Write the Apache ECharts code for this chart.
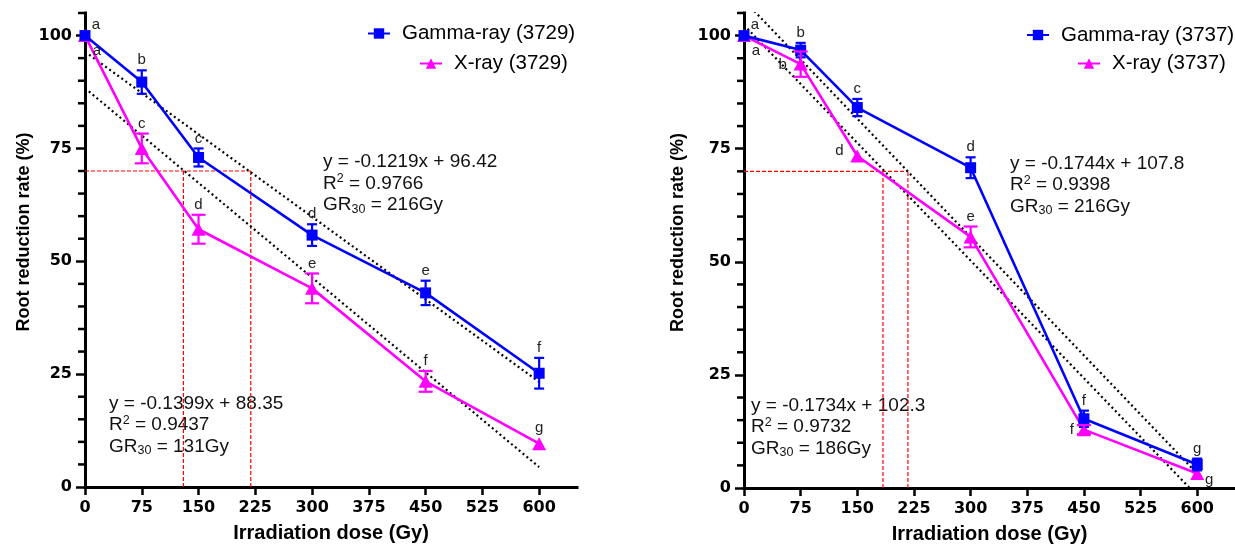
<!DOCTYPE html>
<html>
<head>
<meta charset="utf-8">
<script src="https://cdn.jsdelivr.net/npm/echarts@6/dist/echarts.min.js"></script>
<style>
html, body { margin: 0; padding: 0; background: #fff; }
#main { width: 1235px; height: 549px; }
</style>
</head>
<body>
<div id="main"></div>
<script>
// dose levels and axis ticks
var doses = [0, 75, 150, 300, 450, 600];
var xTicks = [0, 75, 150, 225, 300, 375, 450, 525, 600];
var yTicks = [0, 25, 50, 75, 100];
var yMinorTicks = [5, 10, 15, 20, 30, 35, 40, 45, 55, 60, 65, 70, 80, 85, 90, 95, 105];

// line 3729
var gamma3729 = [100, 89.7, 73.0, 55.8, 43.0, 25.2];
var gamma3729Err = [0, 2.6, 2.0, 2.4, 2.7, 3.4];
var gamma3729Letters = ['a', 'b', 'c', 'd', 'e', 'f'];
var xray3729 = [100, 75.0, 57.1, 44.0, 23.4, 9.6];
var xray3729Err = [0, 3.3, 3.2, 3.3, 2.3, 0];
var xray3729Letters = ['a', 'c', 'd', 'e', 'f', 'g'];
var slope3729 = [-0.1219, -0.1399];      // gamma, x-ray
var intercept3729 = [96.42, 88.35];
var r2_3729 = ['0.9766', '0.9437'];
var gr30_3729 = [216, 131];
var drop3729 = [130, 219];               // red drop lines (Gy)

// line 3737
var gamma3737 = [100, 96.8, 84.1, 70.8, 15.3, 5.2];
var gamma3737Err = [0, 1.6, 1.9, 2.3, 1.8, 1.3];
var gamma3737Letters = ['a', 'b', 'c', 'd', 'f', 'g'];
var xray3737 = [100, 93.7, 73.4, 55.5, 12.9, 3.2];
var xray3737Err = [0, 2.8, 0, 2.3, 1.0, 0];
var xray3737Letters = ['a', 'b', 'd', 'e', 'f', 'g'];
var slope3737 = [-0.1744, -0.1734];
var intercept3737 = [107.8, 102.3];
var r2_3737 = ['0.9398', '0.9732'];
var gr30_3737 = [216, 186];
var drop3737 = [184, 217];

var refLevel = 70;

var BLUE = '#0000ff';
var PINK = '#ff00ff';
var FONT = 'Liberation Sans';

// where the significance letters sit
var LABEL_OFFSET = { tr: [11, -11], br: [12, 15], l: [-18, 1], l2: [-12, 0], lt: [-18, -5], rb: [12, 6] };

function pairs(xs, ys) {
    return xs.map(function (x, i) { return [x, ys[i]]; });
}

function errorBars(xi, yi, vals, errs, letters, places, color, capW) {
    return {
        type: 'custom',
        xAxisIndex: xi,
        yAxisIndex: yi,
        z: 5,
        silent: true,
        data: doses.map(function (d, i) { return [d, vals[i], errs[i], i]; }),
        renderItem: function (params, api) {
            var x = api.value(0), y = api.value(1), e = api.value(2), i = api.value(3);
            var hi = api.coord([x, y + e]);
            var lo = api.coord([x, y - e]);
            var kids = [];
            var ls = { stroke: color, lineWidth: 2.2 };
            if (e > 0) {
                kids.push({ type: 'line', shape: { x1: hi[0], y1: hi[1], x2: lo[0], y2: lo[1] }, style: ls });
                kids.push({ type: 'line', shape: { x1: hi[0] - capW / 2, y1: hi[1], x2: hi[0] + capW / 2, y2: hi[1] }, style: ls });
                kids.push({ type: 'line', shape: { x1: lo[0] - capW / 2, y1: lo[1], x2: lo[0] + capW / 2, y2: lo[1] }, style: ls });
            }
            var pl = places[i], lx, ly;
            if (pl === 'top') {
                lx = hi[0];
                ly = hi[1] - (e > 0 ? 10 : 16);
            } else {
                var p = api.coord([x, y]);
                lx = p[0] + LABEL_OFFSET[pl][0];
                ly = p[1] + LABEL_OFFSET[pl][1];
            }
            kids.push({
                type: 'text',
                style: { text: letters[i], x: lx, y: ly, align: 'center', verticalAlign: 'middle',
                    font: '15px "' + FONT + '"', fill: '#222' }
            });
            return { type: 'group', children: kids };
        }
    };
}

function fitLine(xi, yi, m, b) {
    return {
        type: 'line', xAxisIndex: xi, yAxisIndex: yi, silent: true, z: 2,
        data: [[0, b], [600, m * 600 + b]],
        symbol: 'none', clip: true,
        lineStyle: { color: '#000', width: 2.2, type: [2, 3] }
    };
}

function refLine(xi, yi, pts) {
    return {
        type: 'line', xAxisIndex: xi, yAxisIndex: yi, silent: true, z: 1,
        data: pts, symbol: 'none',
        lineStyle: { color: '#ff0000', width: 1.2, type: [4, 2] }
    };
}

function panel(xi, yi, tag, g, gErr, gLet, gPl, xr, xrErr, xrLet, xrPl, slopes, inters, drops) {
    var s = [];
    s.push(refLine(xi, yi, [[0, refLevel], [Math.max.apply(null, drops), refLevel]]));
    drops.forEach(function (d) {
        s.push(refLine(xi, yi, [[d, 0], [d, refLevel]]));
    });
    s.push(fitLine(xi, yi, slopes[0], inters[0]));
    s.push(fitLine(xi, yi, slopes[1], inters[1]));
    s.push({
        name: 'Gamma-ray (' + tag + ')', type: 'line', xAxisIndex: xi, yAxisIndex: yi, z: 4,
        data: pairs(doses, g), symbol: 'rect', symbolSize: 11,
        lineStyle: { color: BLUE, width: 2.6 }, itemStyle: { color: BLUE }
    });
    s.push({
        name: 'X-ray (' + tag + ')', type: 'line', xAxisIndex: xi, yAxisIndex: yi, z: 3,
        data: pairs(doses, xr), symbol: 'triangle', symbolSize: [14, 13],
        lineStyle: { color: PINK, width: 2.6 }, itemStyle: { color: PINK }
    });
    s.push(errorBars(xi, yi, g, gErr, gLet, gPl, BLUE, 10));
    s.push(errorBars(xi, yi, xr, xrErr, xrLet, xrPl, PINK, 14));
    return s;
}

function xAxisCfg(grid) {
    return {
        type: 'value', gridIndex: grid, min: 0, max: 650,
        name: 'Irradiation dose (Gy)', nameLocation: 'middle', nameGap: 36,
        nameTextStyle: { fontFamily: FONT, fontWeight: 'bold', fontSize: 20, color: '#000' },
        axisLine: { show: true, onZero: false, lineStyle: { color: '#000', width: 3, cap: 'square' } },
        axisTick: { show: true, length: 8, customValues: xTicks, lineStyle: { color: '#000', width: 2.5 } },
        axisLabel: { customValues: xTicks, margin: 13, fontFamily: 'DejaVu Sans', fontWeight: 'bold', fontSize: 16, color: '#000' },
        splitLine: { show: false }
    };
}

function yAxisCfg(grid, gap) {
    return {
        type: 'value', gridIndex: grid, min: 0, max: 105, position: 'left',
        name: 'Root reduction rate (%)', nameLocation: 'middle', nameGap: gap,
        nameTextStyle: { fontFamily: FONT, fontWeight: 'bold', fontSize: 18, color: '#000', padding: [0, 0, 0, 36] },
        axisLine: { show: true, onZero: false, lineStyle: { color: '#000', width: 3, cap: 'square' } },
        axisTick: { show: true, length: 9, customValues: yTicks, lineStyle: { color: '#000', width: 2.5 } },
        axisLabel: { customValues: yTicks, margin: 13, fontFamily: 'DejaVu Sans', fontWeight: 'bold', fontSize: 16, color: '#000' },
        splitLine: { show: false }
    };
}

function legendItem(name, left, top) {
    return {
        data: [name], left: left, top: top, padding: 0, selectedMode: false,
        itemWidth: 22, itemHeight: 13,
        textStyle: { fontFamily: FONT, fontSize: 20.5, color: '#000', padding: [0, 0, 0, 7] }
    };
}

function fitText(left, top, m, b, r2, gr) {
    return {
        type: 'text', left: left, top: top, silent: true,
        style: {
            text: '{n|y = ' + m + 'x + ' + b + '}\n{n|R}{sup|2}{n| = ' + r2 + '}\n{n|GR}{sub|30}{n| = ' + gr + 'Gy}',
            rich: {
                n: { fontFamily: FONT, fontSize: 19, lineHeight: 21.5, fill: '#111' },
                sup: { fontFamily: FONT, fontSize: 12.5, lineHeight: 12, padding: [0, 0, 9, 0], fill: '#111' },
                sub: { fontFamily: FONT, fontSize: 12.5, lineHeight: 12, padding: [9, 0, 0, 0], fill: '#111' }
            }
        }
    };
}

var series = [].concat(
    panel(0, 0, '3729',
        gamma3729, gamma3729Err, gamma3729Letters, ['tr', 'top', 'top', 'top', 'top', 'top'],
        xray3729, xray3729Err, xray3729Letters, ['br', 'top', 'top', 'top', 'top', 'top'],
        slope3729, intercept3729, drop3729),
    panel(1, 1, '3737',
        gamma3737, gamma3737Err, gamma3737Letters, ['tr', 'top', 'top', 'top', 'top', 'top'],
        xray3737, xray3737Err, xray3737Letters, ['br', 'l', 'lt', 'top', 'l2', 'rb'],
        slope3737, intercept3737, drop3737)
);

var texts = [
    fitText(323, 152.5, slope3729[0], intercept3729[0], r2_3729[0], gr30_3729[0]),
    fitText(109, 394, slope3729[1], intercept3729[1], r2_3729[1], gr30_3729[1]),
    fitText(1010, 154, slope3737[0], intercept3737[0], r2_3737[0], gr30_3737[0]),
    fitText(751, 396, slope3737[1], intercept3737[1], r2_3737[1], gr30_3737[1])
];

var myChart = echarts.init(document.getElementById('main'));
var option = {
    animation: false,
    backgroundColor: '#fff',
    grid: [
        { left: 85, top: 13, width: 492, height: 474, outerBoundsMode: 'none' },
        { left: 744, top: 13, width: 491, height: 475, outerBoundsMode: 'none' }
    ],
    xAxis: [xAxisCfg(0), xAxisCfg(1)],
    yAxis: [yAxisCfg(0, 52), yAxisCfg(1, 57)],
    legend: [
        legendItem('Gamma-ray (3729)', 367, 23),
        legendItem('X-ray (3729)', 419, 53),
        legendItem('Gamma-ray (3737)', 1026, 24.5),
        legendItem('X-ray (3737)', 1077, 53)
    ],
    graphic: texts,
    series: series
};
myChart.setOption(option);

// short 5 % ticks on both y axes, positioned through the axis scales
var minorEls = [];
[0, 1].forEach(function (k) {
    var x0 = myChart.convertToPixel({ xAxisIndex: k }, 0);
    yMinorTicks.forEach(function (v) {
        var y = myChart.convertToPixel({ yAxisIndex: k }, v);
        if (isFinite(x0) && isFinite(y)) {
            minorEls.push({
                type: 'line', silent: true, z: 100,
                shape: { x1: x0 - 7, y1: y, x2: x0, y2: y },
                style: { stroke: '#000', lineWidth: 2.5 }
            });
        }
    });
});
myChart.setOption({ graphic: texts.concat(minorEls) });

window.onresize = function () {
    myChart.resize();
};
</script>
</body>
</html>
